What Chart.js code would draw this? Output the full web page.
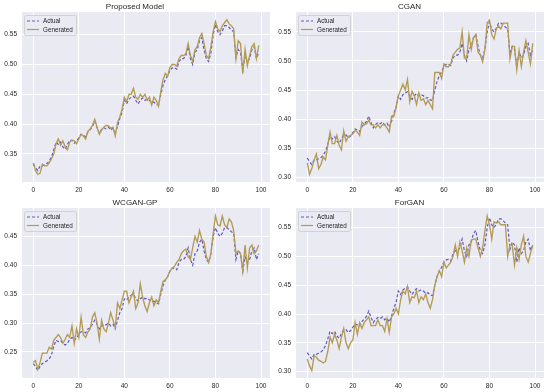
<!DOCTYPE html>
<html>
<head>
<meta charset="utf-8">
<script src="https://cdn.jsdelivr.net/npm/chart.js@4.4.1/dist/chart.umd.min.js"></script>
<style>
  body { margin: 0; background: #fff; }
  #wrap { position: relative; width: 550px; height: 392px; }
  .panel { position: absolute; width: 275px; height: 196px; }
</style>
</head>
<body>
<div id="wrap">
  <div class="panel" style="left:0;top:0"><canvas id="c0"></canvas></div>
  <div class="panel" style="left:275px;top:0"><canvas id="c1"></canvas></div>
  <div class="panel" style="left:0;top:196px"><canvas id="c2"></canvas></div>
  <div class="panel" style="left:275px;top:196px"><canvas id="c3"></canvas></div>
</div>
<script>
// x positions 0..99
const steps = Array.from({ length: 100 }, (_, i) => i);
const xTicks = [0, 20, 40, 60, 80, 100];

// actual series (shared by Proposed Model, CGAN and ForGAN panels)
const actual = [
  0.333, 0.327, 0.322, 0.330, 0.330, 0.332, 0.334, 0.338, 0.345, 0.357,
  0.370, 0.366, 0.370, 0.362, 0.358, 0.366, 0.373, 0.373, 0.368, 0.371,
  0.377, 0.383, 0.381, 0.379, 0.387, 0.391, 0.396, 0.405, 0.394, 0.385,
  0.391, 0.394, 0.392, 0.395, 0.390, 0.393, 0.386, 0.396, 0.410, 0.420,
  0.440, 0.434, 0.442, 0.445, 0.447, 0.440, 0.434, 0.440, 0.444, 0.440,
  0.442, 0.440, 0.436, 0.437, 0.433, 0.432, 0.450, 0.465, 0.475, 0.481,
  0.490, 0.494, 0.495, 0.492, 0.505, 0.510, 0.510, 0.515, 0.530, 0.510,
  0.500, 0.520, 0.525, 0.540, 0.545, 0.525, 0.510, 0.505, 0.520, 0.550,
  0.567, 0.555, 0.550, 0.556, 0.565, 0.565, 0.562, 0.558, 0.555, 0.512,
  0.525, 0.520, 0.490, 0.515, 0.505, 0.510, 0.525, 0.530, 0.510, 0.520
];
const genProposed = [
  0.335, 0.322, 0.316, 0.318, 0.333, 0.330, 0.330, 0.335, 0.342, 0.350,
  0.367, 0.375, 0.365, 0.372, 0.362, 0.357, 0.370, 0.373, 0.372, 0.367,
  0.375, 0.383, 0.380, 0.375, 0.388, 0.392, 0.398, 0.408, 0.395, 0.383,
  0.390, 0.395, 0.398, 0.397, 0.393, 0.395, 0.380, 0.403, 0.412, 0.425,
  0.445, 0.438, 0.450, 0.450, 0.460, 0.445, 0.442, 0.450, 0.445, 0.450,
  0.440, 0.445, 0.432, 0.445, 0.440, 0.430, 0.455, 0.475, 0.485, 0.480,
  0.495, 0.500, 0.500, 0.497, 0.510, 0.515, 0.515, 0.518, 0.535, 0.515,
  0.505, 0.525, 0.530, 0.545, 0.552, 0.535, 0.515, 0.510, 0.530, 0.555,
  0.572, 0.560, 0.555, 0.565, 0.570, 0.575, 0.568, 0.565, 0.560, 0.510,
  0.540, 0.535, 0.485, 0.525, 0.498, 0.515, 0.530, 0.535, 0.510, 0.532
];
const genCgan = [
  0.325, 0.305, 0.315, 0.330, 0.340, 0.315, 0.322, 0.335, 0.330, 0.355,
  0.378, 0.358, 0.358, 0.372, 0.355, 0.347, 0.380, 0.362, 0.370, 0.372,
  0.375, 0.380, 0.378, 0.372, 0.395, 0.390, 0.392, 0.398, 0.390, 0.390,
  0.385, 0.390, 0.385, 0.390, 0.390, 0.385, 0.378, 0.405, 0.405, 0.420,
  0.440, 0.450, 0.460, 0.450, 0.468, 0.430, 0.448, 0.440, 0.425, 0.445,
  0.432, 0.435, 0.425, 0.432, 0.425, 0.418, 0.480, 0.480, 0.480, 0.470,
  0.495, 0.490, 0.490, 0.495, 0.510, 0.515, 0.520, 0.522, 0.550, 0.505,
  0.505, 0.545, 0.520, 0.540, 0.545, 0.515, 0.510, 0.498, 0.520, 0.565,
  0.570, 0.545, 0.538, 0.555, 0.560, 0.555, 0.565, 0.565, 0.565, 0.503,
  0.525, 0.525, 0.485, 0.518, 0.490, 0.515, 0.535, 0.515, 0.495, 0.530
];
// WCGAN-GP panel uses a differently scaled actual series
const actualWgan = [
  0.230, 0.225, 0.218, 0.225, 0.230, 0.232, 0.235, 0.238, 0.245, 0.260,
  0.270, 0.268, 0.270, 0.265, 0.262, 0.265, 0.272, 0.275, 0.270, 0.275,
  0.280, 0.285, 0.285, 0.283, 0.290, 0.292, 0.298, 0.305, 0.298, 0.290,
  0.295, 0.298, 0.297, 0.300, 0.295, 0.298, 0.290, 0.305, 0.318, 0.325,
  0.342, 0.340, 0.345, 0.348, 0.350, 0.342, 0.338, 0.342, 0.345, 0.342,
  0.343, 0.340, 0.337, 0.338, 0.335, 0.333, 0.350, 0.365, 0.375, 0.380,
  0.390, 0.395, 0.395, 0.392, 0.405, 0.410, 0.410, 0.415, 0.430, 0.410,
  0.400, 0.420, 0.425, 0.440, 0.445, 0.425, 0.410, 0.405, 0.420, 0.450,
  0.465, 0.455, 0.450, 0.455, 0.465, 0.465, 0.462, 0.458, 0.455, 0.410,
  0.425, 0.420, 0.390, 0.415, 0.405, 0.410, 0.425, 0.430, 0.410, 0.420
];
const genWgan = [
  0.232, 0.235, 0.220, 0.232, 0.248, 0.248, 0.248, 0.258, 0.255, 0.270,
  0.275, 0.280, 0.275, 0.265, 0.272, 0.280, 0.275, 0.295, 0.265, 0.290,
  0.275, 0.310, 0.280, 0.275, 0.285, 0.290, 0.310, 0.318, 0.300, 0.272,
  0.305, 0.290, 0.285, 0.300, 0.318, 0.305, 0.292, 0.335, 0.325, 0.340,
  0.355, 0.355, 0.335, 0.345, 0.355, 0.325, 0.335, 0.368, 0.345, 0.330,
  0.320, 0.335, 0.345, 0.330, 0.340, 0.335, 0.355, 0.372, 0.375, 0.380,
  0.390, 0.395, 0.398, 0.405, 0.410, 0.420, 0.425, 0.428, 0.415, 0.410,
  0.430, 0.450, 0.440, 0.460, 0.445, 0.440, 0.415, 0.405, 0.420, 0.455,
  0.485, 0.470, 0.468, 0.485, 0.470, 0.465, 0.480, 0.475, 0.460, 0.420,
  0.425, 0.420, 0.390, 0.435, 0.395, 0.430, 0.435, 0.420, 0.425, 0.435
];
const genForgan = [
  0.322, 0.310, 0.302, 0.328, 0.325, 0.320, 0.318, 0.315, 0.318, 0.335,
  0.360, 0.350, 0.365, 0.355, 0.340, 0.360, 0.375, 0.350, 0.340, 0.350,
  0.355, 0.385, 0.365, 0.385, 0.375, 0.385, 0.390, 0.395, 0.380, 0.380,
  0.380, 0.390, 0.380, 0.380, 0.370, 0.392, 0.368, 0.395, 0.400, 0.410,
  0.400, 0.425, 0.440, 0.435, 0.448, 0.420, 0.430, 0.428, 0.440, 0.420,
  0.430, 0.425, 0.435, 0.420, 0.410, 0.425, 0.450, 0.465, 0.475, 0.465,
  0.490, 0.480, 0.485, 0.490, 0.500, 0.520, 0.500, 0.525, 0.510, 0.490,
  0.515, 0.500, 0.528, 0.530, 0.530, 0.515, 0.500, 0.515, 0.545, 0.570,
  0.555, 0.530, 0.560, 0.558, 0.560, 0.555, 0.555, 0.555, 0.500, 0.520,
  0.520, 0.485, 0.515, 0.495, 0.520, 0.535, 0.500, 0.490, 0.505, 0.520
];

const ticksProposed = [0.35, 0.40, 0.45, 0.50, 0.55];
const ticksCgan = [0.30, 0.35, 0.40, 0.45, 0.50, 0.55];
const ticksWgan = [0.25, 0.30, 0.35, 0.40, 0.45];
const ticksForgan = [0.30, 0.35, 0.40, 0.45, 0.50, 0.55];

const panels = [
  { id: 'c0', title: 'Proposed Model', act: actual, gen: genProposed, yt: ticksProposed, ymin: 0.303, ymax: 0.588, left: 22, right: 5 },
  { id: 'c1', title: 'CGAN', act: actual, gen: genCgan, yt: ticksCgan, ymin: 0.292, ymax: 0.584, left: 21, right: 6 },
  { id: 'c2', title: 'WCGAN-GP', act: actualWgan, gen: genWgan, yt: ticksWgan, ymin: 0.205, ymax: 0.499, left: 22, right: 5 },
  { id: 'c3', title: 'ForGAN', act: actual, gen: genForgan, yt: ticksForgan, ymin: 0.289, ymax: 0.584, left: 21, right: 6 }
];

const FONT = "'Liberation Sans', Arial, sans-serif";

// seaborn-like grey plot background
const plotBg = {
  id: 'plotBg',
  beforeDraw(chart) {
    const a = chart.chartArea, ctx = chart.ctx;
    ctx.save();
    ctx.fillStyle = '#EAEAF2';
    ctx.fillRect(a.left, a.top, a.right - a.left, a.bottom - a.top);
    ctx.restore();
  }
};

// legend box in the upper left of the plot
const boxLegend = {
  id: 'boxLegend',
  afterDatasetsDraw(chart) {
    const a = chart.chartArea, ctx = chart.ctx;
    const x0 = a.left + 2, y0 = a.top + 3, w = 52, h = 20;
    ctx.save();
    ctx.beginPath();
    ctx.roundRect(x0 + 0.5, y0 + 0.5, w, h, 2);
    ctx.fillStyle = 'rgba(234,234,242,0.8)';
    ctx.fill();
    ctx.strokeStyle = '#cccccc';
    ctx.lineWidth = 0.8;
    ctx.stroke();
    ctx.font = '6.3px ' + FONT;
    ctx.textBaseline = 'middle';
    const sets = [chart.data.datasets[0], chart.data.datasets[1]];
    sets.forEach((ds, i) => {
      const y = y0 + 6 + i * 8.5;
      ctx.beginPath();
      ctx.setLineDash(ds.borderDash || []);
      ctx.strokeStyle = ds.borderColor;
      ctx.lineWidth = 1.2;
      ctx.moveTo(x0 + 3, y);
      ctx.lineTo(x0 + 15, y);
      ctx.stroke();
      ctx.setLineDash([]);
      ctx.fillStyle = '#262626';
      ctx.fillText(ds.label, x0 + 19, y + 0.5);
    });
    ctx.restore();
  }
};

panels.forEach(p => {
  new Chart(document.getElementById(p.id), {
    type: 'line',
    data: {
      labels: steps,
      datasets: [
        { label: 'Actual', data: p.act, borderColor: '#6058c0', borderWidth: 1.2, borderDash: [3, 2], pointRadius: 0, order: 1 },
        { label: 'Generated', data: p.gen, borderColor: '#b39b55', borderWidth: 1.35, pointRadius: 0, order: 0 }
      ]
    },
    options: {
      responsive: true,
      maintainAspectRatio: false,
      animation: false,
      devicePixelRatio: 1,
      layout: { padding: { left: 0, right: p.right, top: 0, bottom: 0 } },
      plugins: {
        legend: { display: false },
        tooltip: { enabled: false },
        title: {
          display: true,
          text: p.title,
          color: '#262626',
          font: { family: FONT, size: 8, weight: 'normal', lineHeight: 1 },
          padding: { top: 3, bottom: 1 }
        }
      },
      scales: {
        x: {
          type: 'linear',
          min: -4.95,
          max: 103.95,
          afterBuildTicks: s => { s.ticks = xTicks.map(v => ({ value: v })); },
          afterFit: s => { s.height = 14; },
          grid: { color: '#ffffff', lineWidth: 1, drawTicks: false },
          border: { display: false },
          ticks: { color: '#262626', padding: 4, maxRotation: 0, font: { family: FONT, size: 6.5 } }
        },
        y: {
          min: p.ymin,
          max: p.ymax,
          afterBuildTicks: s => { s.ticks = p.yt.map(v => ({ value: v })); },
          afterFit: s => { s.width = p.left; },
          grid: { color: '#ffffff', lineWidth: 1, drawTicks: false },
          border: { display: false },
          ticks: { color: '#262626', padding: 5, font: { family: FONT, size: 6.5 }, callback: v => v.toFixed(2) }
        }
      }
    },
    plugins: [plotBg, boxLegend]
  });
});
</script>
</body>
</html>
